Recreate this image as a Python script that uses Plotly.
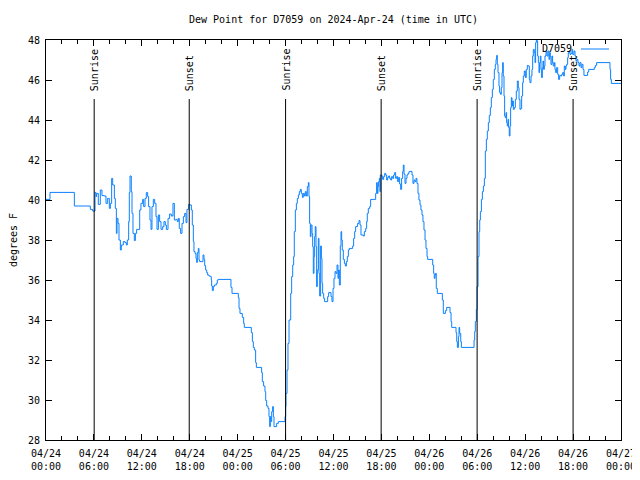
import pandas as pd
import plotly.graph_objects as go

# ---------------- data ----------------
START = "2024-04-24 00:00"
station = "D7059"

day1_hours = [0.00, 0.50, 3.55, 5.55, 5.84, 6.14, 6.26, 6.34, 6.55, 6.80, 7.01, 7.30, 7.51, 7.72, 7.93,
              8.06, 8.22, 8.35, 8.56, 8.68, 8.81, 8.89, 9.02, 9.14, 9.31, 9.43, 9.68, 9.89, 10.06, 10.18,
              10.35, 10.43, 10.52, 10.68, 10.77, 10.89, 11.06, 11.19, 11.35, 11.73, 11.89, 12.10, 12.23,
              12.40, 12.56, 12.73, 12.85, 13.02, 13.15, 13.27, 13.44, 13.61, 13.77, 13.90, 14.07, 14.23,
              14.40, 14.61, 14.77, 14.94, 15.07, 15.28, 15.48, 15.69, 15.90, 16.07, 16.28, 16.44, 16.57,
              16.69, 16.86, 17.03, 17.20, 17.36, 17.53, 17.65, 17.86, 18.03, 18.20, 18.32, 18.45, 18.53,
              18.66, 18.78, 18.87, 18.95, 19.07, 19.16, 19.24, 19.66, 19.78, 19.87, 19.99, 20.12, 20.24,
              20.41, 20.58, 20.70, 20.74, 20.83, 20.95, 21.08, 21.33, 21.45, 21.58, 23.16, 23.29]
day1_dewpt = [40.03, 40.38, 39.70, 39.53, 39.45, 40.38, 40.17, 40.33, 39.78, 40.50, 40.22, 40.20, 39.83, 40.08, 39.58,
              39.83, 41.08, 40.75, 40.08, 39.58, 38.33, 39.08, 38.83, 38.00, 37.50, 37.75, 37.92, 37.87, 37.75, 38.00,
              38.92, 40.37, 41.20, 40.42, 39.33, 38.33, 37.97, 38.33, 38.53, 39.50, 39.83, 40.03, 39.67,
              40.08, 40.37, 40.17, 39.67, 39.00, 38.53, 39.67, 40.03, 39.83, 39.17, 38.53, 39.25, 38.92,
              38.53, 38.67, 38.92, 38.75, 38.53, 39.08, 39.30, 39.20, 39.83, 39.00, 39.03, 38.92, 39.08,
              38.58, 38.33, 38.83, 39.17, 39.33, 38.87, 39.53, 39.78, 39.75, 39.50, 38.75, 37.92, 37.42,
              37.33, 37.08, 36.88, 37.37, 37.58, 37.00, 36.92, 37.25, 37.03, 36.72, 36.50, 36.37, 36.25,
              36.20, 36.17, 36.00, 35.70, 35.47, 35.67, 35.75, 35.83, 36.00, 36.03, 35.63, 35.33]

day2_hours = [24.08, 24.17, 24.29, 24.58, 24.75, 24.83, 25.71, 25.84, 25.96, 26.09, 26.25, 26.34, 27.00, 27.09,
              27.25, 27.42, 27.51, 27.63, 27.80, 27.92, 28.01, 28.09, 28.17, 28.26, 28.38, 28.47, 28.55, 28.88,
              29.09, 29.93, 30.01, 30.05, 30.18, 30.30, 30.43, 30.64, 30.76, 30.89, 31.01, 31.09, 31.22, 31.35,
              31.47, 31.60, 31.72, 31.85, 31.97, 32.10, 32.22, 32.35, 32.47, 32.60, 32.72, 32.85, 32.93, 33.01,
              33.10, 33.18, 33.31, 33.39, 33.47, 33.56, 33.64, 33.72, 33.81, 33.89, 33.97, 34.10, 34.18, 34.27,
              34.39, 34.48, 34.56, 34.64, 34.77, 34.89, 35.27, 35.39, 35.69, 35.81, 35.94, 36.06, 36.19, 36.31,
              36.44, 36.56, 36.65, 36.73, 36.85, 36.94, 37.02, 37.10, 37.23, 37.36, 37.48, 37.61, 37.73, 37.86,
              37.98, 38.40, 38.52, 38.65, 38.77, 39.02, 39.19, 39.32, 39.44, 39.73, 39.86, 40.03, 40.15, 40.23,
              40.36, 40.53, 40.65, 41.28, 41.40, 41.49, 41.57, 41.65, 41.74, 41.82, 41.86, 42.07, 42.15, 42.28,
              42.41, 42.53, 42.66, 42.78, 42.91, 43.03, 43.16, 43.28, 43.41, 43.53, 43.66, 43.78, 43.91, 44.03,
              44.16, 44.28, 44.41, 44.53, 44.66, 44.74, 44.83, 44.95, 45.08, 45.20, 45.33, 45.45, 45.58, 45.83,
              45.95, 46.08, 46.20, 46.33, 46.45, 46.58, 46.70, 46.83, 46.95, 47.08, 47.20, 47.33, 47.46, 47.58,
              47.71, 47.79]
day2_dewpt = [35.12, 34.58, 34.33, 34.13, 33.83, 33.63, 33.37, 32.92, 32.63, 32.50, 31.87, 31.63, 31.37, 30.92,
              30.70, 30.42, 29.97, 29.70, 29.58, 29.17, 28.67, 29.17, 28.92, 29.42, 29.67, 29.17, 28.67, 28.83,
              28.92, 29.17, 29.67, 30.33, 31.50, 32.83, 34.00, 35.33, 36.17, 36.75, 37.17, 38.42, 39.50, 39.83,
              40.08, 40.25, 40.42, 40.53, 40.33, 40.13, 40.33, 40.20, 40.42, 40.20, 40.67, 40.87, 40.17, 38.83,
              38.17, 38.75, 38.33, 37.67, 36.33, 37.17, 38.17, 38.67, 37.67, 35.67, 36.50, 38.08, 36.33, 35.20,
              37.70, 37.08, 35.83, 35.33, 35.08, 34.92, 35.17, 35.37, 35.17, 34.92, 35.58, 36.08, 36.42, 36.33,
              36.75, 36.08, 36.50, 35.75, 37.70, 38.42, 38.00, 37.50, 37.03, 36.83, 36.70, 36.92, 37.17, 37.50,
              37.58, 37.70, 38.08, 38.42, 38.67, 38.83, 38.97, 38.75, 38.25, 38.20, 38.42, 38.58, 38.92, 39.33,
              39.58, 39.67, 40.03, 40.33, 40.87, 40.33, 40.67, 40.92, 41.08, 40.42, 41.25, 41.17, 41.03, 41.17,
              41.33, 41.25, 41.00, 41.13, 41.20, 41.08, 41.00, 41.17, 41.08, 41.25, 41.37, 41.08, 41.17, 40.92,
              41.13, 40.80, 40.53, 41.08, 41.42, 41.75, 41.30, 40.83, 41.08, 41.25, 41.33, 41.42, 41.43, 41.25,
              40.83, 41.00, 40.92, 41.08, 40.83, 40.33, 40.00, 39.75, 39.50, 39.25, 38.92, 38.50, 38.00, 37.58,
              37.17, 37.03]

day3_hours = [48.42, 48.54, 48.62, 48.71, 48.79, 48.87, 49.00, 49.63, 49.75, 50.01, 50.17, 50.59, 50.72, 50.80,
              51.34, 51.43, 51.51, 51.64, 51.72, 51.80, 51.93, 52.01, 53.60, 53.68, 53.76, 53.89, 53.97, 54.10,
              54.22, 54.31, 54.39, 54.52, 54.64, 54.77, 54.89, 55.01, 55.14, 55.26, 55.39, 55.51, 55.64, 55.76,
              55.89, 56.01, 56.14, 56.26, 56.35, 56.43, 56.51, 56.60, 56.72, 56.80, 56.93, 57.01, 57.10, 57.18,
              57.26, 57.35, 57.43, 57.51, 57.60, 57.68, 57.76, 57.85, 57.93, 58.01, 58.10, 58.18, 58.27, 58.35,
              58.43, 58.52, 58.64, 58.77, 58.89, 59.02, 59.14, 59.23, 59.35, 59.43, 59.56, 59.68, 59.77, 59.89,
              60.02, 60.14, 60.27, 60.39, 60.52, 60.60, 60.73, 60.85, 60.94, 61.02, 61.14, 61.23, 61.31, 61.40,
              61.48, 61.56, 61.65, 61.73, 61.81, 61.90, 61.98, 62.06, 62.15, 62.23, 62.31, 62.40, 62.48, 62.61,
              62.73, 62.86, 62.98, 63.07, 63.15, 63.23, 63.36, 63.44, 63.52, 63.65, 63.73, 63.82, 63.94, 64.07,
              64.19, 64.32, 64.44, 64.57, 64.69, 64.82, 64.90, 65.03, 65.11, 65.19, 65.32, 65.40, 65.53, 65.61,
              65.74, 65.86, 65.95, 66.11, 66.24, 66.36, 66.49, 66.61, 66.74, 66.86, 66.99, 67.11, 67.24, 67.36,
              67.82, 67.95, 68.66, 68.78, 68.95, 70.62, 70.70, 70.79, 72.00]
day3_dewpt = [36.75, 36.33, 36.08, 36.25, 36.33, 35.58, 35.33, 35.00, 34.33, 34.47, 34.63, 34.37, 33.92, 33.63,
              33.37, 32.92, 32.63, 33.17, 33.63, 33.33, 32.92, 32.63, 33.00, 33.42, 33.92, 34.53, 35.67, 37.17,
              38.42, 39.00, 39.42, 40.03, 40.42, 40.70, 41.08, 42.45, 43.03, 43.45, 43.87, 44.23, 44.62, 45.12,
              45.53, 46.03, 46.53, 46.78, 47.03, 47.23, 46.78, 46.37, 45.70, 45.37, 45.28, 45.62, 46.37, 46.87,
              46.20, 45.20, 44.20, 44.12, 44.37, 43.87, 43.70, 44.03, 43.62, 43.20, 43.70, 44.62, 45.12, 44.70,
              44.95, 44.53, 44.62, 45.03, 45.45, 45.95, 45.62, 45.03, 44.53, 44.57, 45.20, 45.87, 46.20, 46.45,
              46.12, 46.53, 46.73, 46.70, 46.03, 45.87, 46.20, 46.53, 47.20, 47.53, 47.37, 46.87, 47.87, 48.07,
              47.95, 47.20, 46.87, 46.37, 46.87, 47.20, 46.53, 46.12, 46.62, 46.95, 46.53, 46.70, 47.20, 47.45,
              47.20, 47.45, 47.03, 47.37, 47.17, 46.78, 47.20, 46.87, 46.70, 46.87, 46.53, 46.37, 46.62, 46.28,
              46.03, 46.23, 46.20, 46.28, 46.37, 46.20, 46.70, 46.53, 46.70, 46.78, 47.12, 47.37, 47.45, 47.28,
              47.33, 47.53, 47.28, 47.45, 47.20, 46.95, 47.03, 46.87, 46.70, 46.87, 46.62, 46.78, 46.53, 46.23,
              46.40, 46.53, 46.62, 46.73, 46.87, 46.53, 46.03, 45.83, 45.83]

sunrise_times = ["2024-04-24 06:02", "2024-04-25 06:00", "2024-04-26 05:59"]
sunset_times = ["2024-04-24 17:56", "2024-04-25 17:58", "2024-04-26 18:00"]

x_tickvals = ["2024-04-24 00:00", "2024-04-24 06:00", "2024-04-24 12:00", "2024-04-24 18:00",
              "2024-04-25 00:00", "2024-04-25 06:00", "2024-04-25 12:00", "2024-04-25 18:00",
              "2024-04-26 00:00", "2024-04-26 06:00", "2024-04-26 12:00", "2024-04-26 18:00",
              "2024-04-27 00:00"]
x_ticktext = ["04/24<br>00:00", "04/24<br>06:00", "04/24<br>12:00", "04/24<br>18:00",
              "04/25<br>00:00", "04/25<br>06:00", "04/25<br>12:00", "04/25<br>18:00",
              "04/26<br>00:00", "04/26<br>06:00", "04/26<br>12:00", "04/26<br>18:00",
              "04/27<br>00:00"]

# ---------------- figure ----------------
hours = day1_hours + day2_hours + day3_hours
dewpt = day1_dewpt + day2_dewpt + day3_dewpt
times = pd.Timestamp(START) + pd.to_timedelta(hours, unit="h")

FONT = "DejaVu Sans Mono"
LINE_COLOR = "#0a80ff"

# the page body has an 8px margin, so the figure is 8px smaller and margins shifted
W, H = 632, 472

fig = go.Figure()
fig.add_trace(go.Scatter(x=times, y=dewpt, mode="lines", name=station,
                         line=dict(color=LINE_COLOR, width=1, shape="hv"),
                         showlegend=False, hoverinfo="x+y"))

line_top = (440 - 99) / 400
label_bottom = (440 - 93) / 400
for t, lab in [(s, "Sunrise") for s in sunrise_times] + [(s, "Sunset") for s in sunset_times]:
    fig.add_shape(type="line", xref="x", yref="paper", x0=t, x1=t, y0=0, y1=line_top,
                  line=dict(color="black", width=1))
    fig.add_annotation(x=t, y=label_bottom, xref="x", yref="paper", text=lab,
                       textangle=-90, showarrow=False, xanchor="center", yanchor="bottom",
                       xshift=1, font=dict(family=FONT, size=10, color="black"))

# legend (gnuplot style key)
fig.add_annotation(x=(574 - 46) / 575, y=(440 - 49) / 400, xref="paper", yref="paper",
                   text=station, showarrow=False, xanchor="right", yanchor="middle",
                   font=dict(family=FONT, size=10, color="black"))
fig.add_shape(type="line", xref="paper", yref="paper",
              x0=(581 - 46) / 575, x1=(609 - 46) / 575,
              y0=(440 - 49) / 400, y1=(440 - 49) / 400,
              line=dict(color=LINE_COLOR, width=1))

fig.update_layout(
    width=W, height=H,
    margin=dict(l=38, r=19, t=32, b=40, pad=0, autoexpand=False),
    paper_bgcolor="white", plot_bgcolor="white",
    font=dict(family=FONT, size=10, color="black"),
    title=dict(text="Dew Point for D7059 on 2024-Apr-24 (time in UTC)",
               x=325.5 / W, xanchor="center", xref="container",
               y=(H - 11) / H, yanchor="middle", yref="container",
               font=dict(family=FONT, size=10, color="black")),
    showlegend=False,
)

fig.update_xaxes(
    type="date", range=["2024-04-24 00:00", "2024-04-27 00:00"],
    tickmode="array", tickvals=x_tickvals, ticktext=x_ticktext,
    ticks="inside", ticklen=6, tickwidth=1, tickcolor="black",
    minor=dict(tickmode="linear", tick0="2024-04-24 00:00", dtick=2 * 3600 * 1000,
               ticks="inside", ticklen=4, tickwidth=1, tickcolor="black"),
    showline=True, linecolor="black", linewidth=1, mirror="allticks",
    showgrid=False, zeroline=False, automargin=False, ticklabelstandoff=4,
    tickfont=dict(family=FONT, size=10, color="black"),
)
fig.update_yaxes(
    range=[28, 48], tickmode="linear", tick0=28, dtick=2,
    ticks="inside", ticklen=6, tickwidth=1, tickcolor="black",
    showline=True, linecolor="black", linewidth=1, mirror="allticks",
    showgrid=False, zeroline=False, automargin=False, ticklabelstandoff=3,
    title=dict(text="degrees F", standoff=12, font=dict(family=FONT, size=10, color="black")),
    tickfont=dict(family=FONT, size=10, color="black"),
)

fig.write_html("out.html")
